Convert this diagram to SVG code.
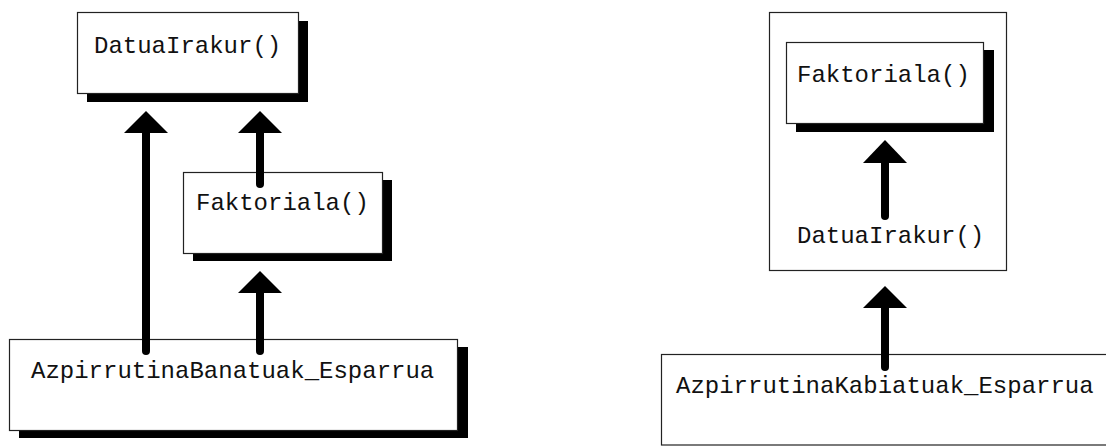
<svg xmlns="http://www.w3.org/2000/svg" width="1106" height="447" viewBox="0 0 1106 447">
  <style>
    .box { fill: #ffffff; stroke: #222222; stroke-width: 1.2; }
    .shadow { fill: #000000; }
    .label { font-family: "Liberation Mono", "Courier New", monospace; font-size: 24px; fill: #111111; }
    .shaft { stroke: #000000; stroke-width: 8; stroke-linecap: round; fill: none; }
    .head { fill: #000000; }
  </style>
  <rect width="1106" height="447" fill="#ffffff"/>

  <!-- Left: separate subroutines -->
  <g id="node-datuairakur-left">
    <rect class="shadow" x="87" y="21" width="221" height="81"/>
    <rect class="box" x="77.5" y="12.5" width="221" height="81"/>
    <text class="label" x="94" y="53">DatuaIrakur()</text>
  </g>
  <g id="node-faktoriala-left">
    <rect class="shadow" x="193" y="180" width="199" height="81"/>
    <rect class="box" x="183.5" y="172.5" width="199" height="81"/>
    <text class="label" x="196" y="210">Faktoriala()</text>
  </g>
  <g id="node-banatuak">
    <rect class="shadow" x="19" y="347" width="449" height="91"/>
    <rect class="box" x="9.5" y="339.5" width="448" height="91"/>
    <text class="label" x="31" y="378">AzpirrutinaBanatuak_Esparrua</text>
  </g>

  <!-- Right: nested subroutines -->
  <g id="node-datuairakur-right">
    <rect class="box" x="769.5" y="12.5" width="237" height="258"/>
    <text class="label" x="797" y="243">DatuaIrakur()</text>
  </g>
  <g id="node-faktoriala-right">
    <rect class="shadow" x="796" y="50" width="198" height="82"/>
    <rect class="box" x="786.5" y="42.5" width="197" height="81"/>
    <text class="label" x="797" y="82">Faktoriala()</text>
  </g>
  <g id="node-kabiatuak">
    <rect class="box" x="661.5" y="354.5" width="460" height="90.5"/>
    <text class="label" x="676" y="393">AzpirrutinaKabiatuak_Esparrua</text>
  </g>

  <g id="connectors">
    <!-- Banatuak -> DatuaIrakur -->
    <line class="shaft" x1="146" y1="351" x2="146" y2="130"/>
    <polygon class="head" points="146,111 168,133 124,133"/>
    <!-- Faktoriala -> DatuaIrakur -->
    <line class="shaft" x1="260" y1="184" x2="260" y2="130"/>
    <polygon class="head" points="260,111 282,133 238,133"/>
    <!-- Banatuak -> Faktoriala -->
    <line class="shaft" x1="260" y1="351" x2="260" y2="290"/>
    <polygon class="head" points="260,271 282,293 238,293"/>
    <!-- DatuaIrakur -> inner Faktoriala -->
    <line class="shaft" x1="885" y1="216" x2="885" y2="160"/>
    <polygon class="head" points="885,140 907,163 863,163"/>
    <!-- Kabiatuak -> DatuaIrakur -->
    <line class="shaft" x1="885" y1="367" x2="885" y2="305"/>
    <polygon class="head" points="885,286 907,308 863,308"/>
  </g>
</svg>
